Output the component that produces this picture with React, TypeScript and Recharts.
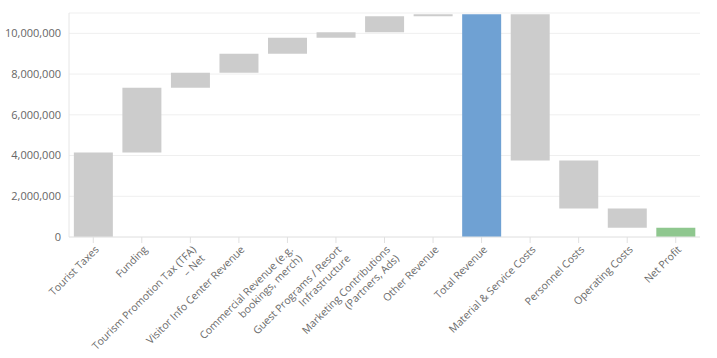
import { BarChart, Bar, XAxis, YAxis, CartesianGrid, Cell } from 'recharts';

const categories = [
  'Tourist Taxes',
  'Funding',
  'Tourism Promotion Tax (TFA) – Net',
  'Visitor Info Center Revenue',
  'Commercial Revenue (e.g. bookings, merch)',
  'Guest Programs / Resort Infrastructure',
  'Marketing Contributions (Partners, Ads)',
  'Other Revenue',
  'Total Revenue',
  'Material & Service Costs',
  'Personnel Costs',
  'Operating Costs',
  'Net Profit',
];

// signed change for each step; totals are marked separately
const amounts = [
  4150000, 3180000, 740000, 930000, 790000, 260000, 790000, 100000,
  0, -7180000, -2360000, -940000, 0,
];
const kinds = [
  'step', 'step', 'step', 'step', 'step', 'step', 'step', 'step',
  'total', 'step', 'step', 'step', 'net',
];

const yTicks = [0, 2000000, 4000000, 6000000, 8000000, 10000000];

const COLORS: Record<string, string> = {
  step: '#cccccc',
  total: '#6fa1d3',
  net: '#8fc78f',
};

function buildRows() {
  let running = 0;
  return categories.map((name, i) => {
    let range: [number, number];
    if (kinds[i] === 'step') {
      const next = running + amounts[i];
      range = [Math.min(running, next), Math.max(running, next)];
      running = next;
    } else {
      range = [0, running];
    }
    return { name, range, kind: kinds[i] };
  });
}

const rows = buildRows();

function wrap(label: string, max = 27): string[] {
  const words = label.split(' ');
  const lines: string[] = [];
  let cur = '';
  words.forEach((w) => {
    const test = cur ? cur + ' ' + w : w;
    if (test.length > max && cur) {
      lines.push(cur);
      cur = w;
    } else {
      cur = test;
    }
  });
  if (cur) lines.push(cur);
  return lines;
}

const FONT = '"Open Sans", sans-serif';

const AngledTick = ({ x, y, payload }: any) => {
  const lines = wrap(payload.value);
  return (
    <g transform={`translate(${x + 1},${y})`}>
      <text
        textAnchor="end"
        transform="rotate(-45)"
        fill="#6b6b6b"
        fontSize={10.5}
        fontFamily={FONT}
      >
        {lines.map((l, i) => (
          <tspan key={i} x={0} dy={i === 0 ? '0.71em' : '1.2em'}>
            {l}
          </tspan>
        ))}
      </text>
    </g>
  );
};

export default function App() {
  return (
    <div style={{ position: 'absolute', left: 0, top: 0, background: '#fff' }}>
      <BarChart
        width={717}
        height={358}
        data={rows}
        margin={{ top: 13, right: 17, left: 0, bottom: 0 }}
        barCategoryGap="10%"
      >
        <CartesianGrid vertical={false} stroke="#efefef" />
        <XAxis
          dataKey="name"
          interval={0}
          height={121}
          tick={<AngledTick />}
          axisLine={{ stroke: '#e6e6e6' }}
          tickLine={{ stroke: '#e0e0e0' }}
        />
        <YAxis
          width={69}
          domain={[0, 11000000]}
          ticks={yTicks}
          tickFormatter={(v: number) => v.toLocaleString('en-US')}
          tick={{ fill: '#666', fontSize: 11, fontFamily: FONT }}
          tickLine={false}
          axisLine={{ stroke: '#e6e6e6' }}
        />
        <Bar dataKey="range" isAnimationActive={false}>
          {rows.map((r, i) => (
            <Cell key={i} fill={COLORS[r.kind]} />
          ))}
        </Bar>
      </BarChart>
    </div>
  );
}
